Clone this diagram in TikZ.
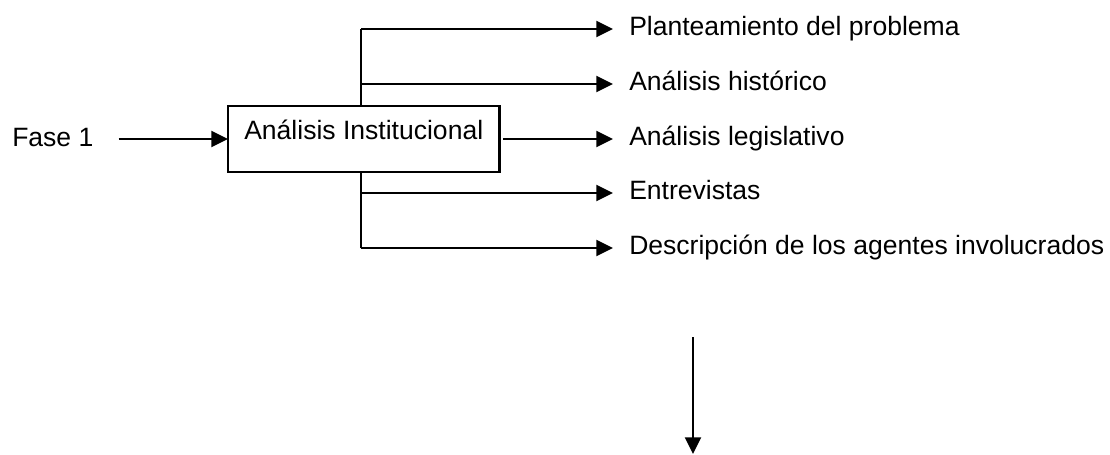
\documentclass[tikz,border=0pt]{standalone}
\usepackage{fontspec}
\setmainfont{Liberation Sans}
\usetikzlibrary{arrows.meta,calc}
\begin{document}
\begin{tikzpicture}[x=0.75pt,y=-0.75pt,
  every node/.style={font=\fontsize{19.9pt}{24pt}\selectfont},
  ln/.style={line width=1.6pt,line cap=butt},
  arr/.style={ln,-{Triangle[length=12.5pt,width=12pt]}},
  lbl/.style={inner xsep=12pt,inner ysep=0pt,anchor=base west},
  boxst/.style={draw,line width=1.6pt,minimum width=203.6pt,minimum height=49.5pt,
    text height=15pt,text depth=15pt,inner xsep=0pt,outer sep=0pt}]
\useasboundingbox (0,0) rectangle (1110,454);
% main box
\node[boxst] (box) at (363.75,139) {Análisis Institucional};
% left label
\node[inner sep=0pt,anchor=base west] (fase) at (12,146.5) {Fase 1};
\coordinate (f1) at ([xshift=18.75pt]fase.east);
\draw[arr] (f1 |- box.west) -- (box.west);
% right labels
\node[lbl] (t1) at (613,35.5) {Planteamiento del problema};
\node[lbl] (t2) at (613,90.5) {Análisis histórico};
\node[lbl] (t3) at (613,145.5) {Análisis legislativo};
\node[lbl] (t4) at (613,199.5) {Entrevistas};
\node[lbl] (t5) at (613,254.5) {Descripción de los agentes involucrados};
% trunk junctions
\coordinate (j1) at (361,29);
\coordinate (j2) at (361,84);
\coordinate (j4) at (361,193);
\coordinate (j5) at (361,248);
\draw[ln] (j1) -- (j1 |- box.north);
\draw[ln] (j5) -- (j5 |- box.south);
\draw[arr] (j1) -- (j1 -| t1.west);
\draw[arr] (j2) -- (j2 -| t2.west);
\coordinate (b3) at ([xshift=3pt]box.east);
\draw[arr] (b3) -- (b3 -| t3.west);
\draw[arr] (j4) -- (j4 -| t4.west);
\draw[arr] (j5) -- (j5 -| t5.west);
% down arrow
\coordinate (d1) at (693,337);
\coordinate (d2) at (693,454);
\draw[arr] (d1) -- (d2);
\end{tikzpicture}
\end{document}
